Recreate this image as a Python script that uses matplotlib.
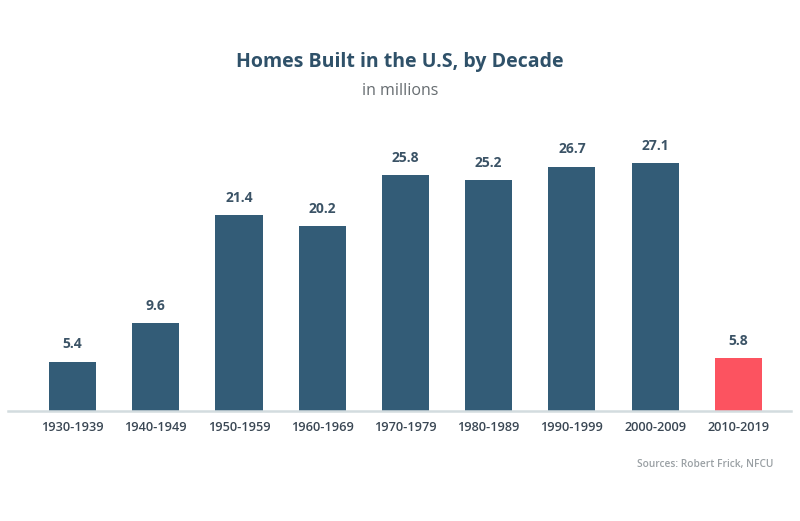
import matplotlib
matplotlib.use("Agg")
import matplotlib.pyplot as plt

decades = ["1930-1939", "1940-1949", "1950-1959", "1960-1969", "1970-1979",
           "1980-1989", "1990-1999", "2000-2009", "2010-2019"]
homes_millions = [5.4, 9.6, 21.4, 20.2, 25.8, 25.2, 26.7, 27.1, 5.8]
value_labels = ["5.4", "9.6", "21.4", "20.2", "25.8", "25.2", "26.7", "27.1", "5.8"]
title = "Homes Built in the U.S, by Decade"
subtitle = "in millions"
source = "Sources: Robert Frick, NFCU"

plt.rcParams['font.family'] = ['Open Sans', 'DejaVu Sans']

W, H = 800, 521
fig = plt.figure(figsize=(8, 5.21), dpi=100)
fig.patch.set_facecolor("white")

# axes from x=8..791 px, baseline at y=411 px
ax_left, ax_right = 8, 791
ax_bottom_px = 411
ax_height_px = 300
ax = fig.add_axes([ax_left / W, (H - ax_bottom_px) / H,
                   (ax_right - ax_left) / W, ax_height_px / H])

px_per_unit = 9.15
colors = ["#335c77"] * (len(decades) - 1) + ["#fc5360"]
x = list(range(len(decades)))
ax.bar(x, homes_millions, width=0.566, color=colors, zorder=2)
ax.set_xlim(-0.776, 8.632)
ax.set_ylim(0, ax_height_px / px_per_unit)

for xi, v, lab in zip(x, homes_millions, value_labels):
    ax.annotate(lab, (xi, v), xytext=(0, 7.5), textcoords="offset points",
                ha="center", va="bottom", fontsize=10, fontweight="bold",
                color="#3b5366")

for s in ["top", "right", "left"]:
    ax.spines[s].set_visible(False)
ax.spines["bottom"].set_color("#d3dcdf")
ax.spines["bottom"].set_linewidth(1.8)
ax.set_yticks([])
ax.set_xticks(x)
ax.set_xticklabels(decades, fontsize=9.2, fontweight="semibold", color="#3a4754")
ax.tick_params(axis="x", length=0, pad=7)

fig.text(0.5, 1 - 62 / H, title, ha="center", va="center", fontsize=14,
         fontweight="bold", color="#2f5169")
fig.text(0.5, 1 - 91 / H, subtitle, ha="center", va="center", fontsize=11.5,
         color="#666c70")
fig.text(773 / W, 1 - 464 / H, source, ha="right", va="center", fontsize=7.3,
         fontweight="semibold", color="#9aa0a4")

fig.savefig("out.png", dpi=100, facecolor="white")
